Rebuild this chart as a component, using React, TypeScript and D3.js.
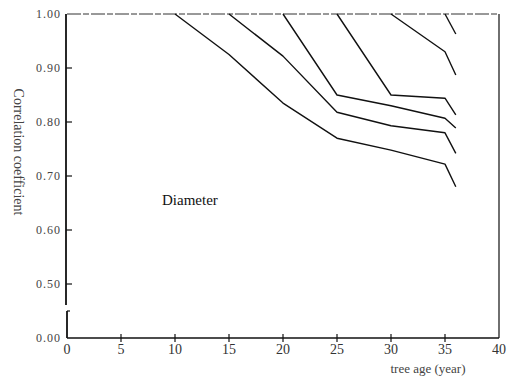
import React from "react";
import * as d3 from "d3";

const ages = [10, 15, 20, 25, 30, 35, 36];
const seriesFrom10 = [1.0, 0.925, 0.835, 0.77, 0.748, 0.722, 0.68];
const seriesFrom15 = [1.0, 0.922, 0.818, 0.793, 0.78, 0.742];
const seriesFrom20 = [1.0, 0.85, 0.83, 0.807, 0.789];
const seriesFrom25 = [1.0, 0.85, 0.844, 0.813];
const seriesFrom30 = [1.0, 0.93, 0.887];
const seriesFrom35 = [1.0, 0.963];
const startAges = [10, 15, 20, 25, 30, 35];

const xTicks = [0, 5, 10, 15, 20, 25, 30, 35, 40];
// broken axis: the bottom tick (drawn at 0.40 position) is labelled 0.00
const yTickValues = [1.0, 0.9, 0.8, 0.7, 0.6, 0.5, 0.4];
const yTickLabels = ["1.00", "0.90", "0.80", "0.70", "0.60", "0.50", "0.00"];

const W = 514;
const H = 383;
const left = 67;
const right = 499;
const top = 14;
const bottom = 338;

export default function App() {
  const x = d3.scaleLinear().domain([0, 40]).range([left, right]);
  const y = d3.scaleLinear().domain([0.4, 1.0]).range([bottom, top]);
  const allSeries = [seriesFrom10, seriesFrom15, seriesFrom20, seriesFrom25, seriesFrom30, seriesFrom35];
  const line = d3
    .line<[number, number]>()
    .x((d) => x(d[0]))
    .y((d) => y(d[1]));
  const font = "'Liberation Serif', 'DejaVu Serif', serif";
  const breakTop = 305;
  const breakBottom = 311;

  return (
    <svg width={W} height={H} style={{ position: "absolute", left: 0, top: 0, background: "#fff" }}>
      {/* frame */}
      <line x1={left} y1={top} x2={right} y2={top} stroke="#333" strokeWidth={1} strokeDasharray="14 2 6 2" />
      <line x1={right} y1={top} x2={right} y2={bottom} stroke="#222" strokeWidth={1.3} />
      <line x1={left} y1={bottom} x2={right} y2={bottom} stroke="#111" strokeWidth={1.5} />
      <line x1={left - 1} y1={top} x2={left - 1} y2={breakTop} stroke="#111" strokeWidth={1.8} />
      <line x1={left} y1={breakBottom} x2={left} y2={bottom} stroke="#111" strokeWidth={1.8} />
      <line x1={left} y1={breakBottom} x2={left + 3} y2={breakBottom} stroke="#111" strokeWidth={1.2} />

      {/* y ticks */}
      {yTickValues.map((v, i) => (
        <g key={"yt" + i}>
          {i > 0 && i < yTickValues.length - 1 && (
            <line x1={left - 1} y1={y(v)} x2={left + 5} y2={y(v)} stroke="#111" strokeWidth={1.2} />
          )}
          <text
            x={left - 6}
            y={y(v) + 4}
            textAnchor="end"
            fontFamily={font}
            fontSize={12}
            letterSpacing={1}
            fill="#444"
          >
            {yTickLabels[i]}
          </text>
        </g>
      ))}

      {/* x ticks */}
      {xTicks.map((t, i) => (
        <g key={"xt" + i}>
          {t > 0 && t < 40 && (
            <line x1={x(t)} y1={bottom - 4} x2={x(t)} y2={bottom + 4} stroke="#111" strokeWidth={1.2} />
          )}
          <text x={x(t)} y={bottom + 16} textAnchor="middle" fontFamily={font} fontSize={14} fill="#333">
            {t}
          </text>
        </g>
      ))}

      {/* series */}
      {allSeries.map((s, i) => {
        const start = startAges[i];
        const pts: [number, number][] = s.map((v, j) => [ages[ages.indexOf(start) + j], v]);
        return (
          <path key={"s" + i} d={line(pts) || ""} fill="none" stroke="#111" strokeWidth={1.4} strokeLinejoin="round" />
        );
      })}

      {/* labels */}
      <text x={162} y={205} fontFamily={font} fontSize={15} fill="#111">
        Diameter
      </text>
      <text
        transform={`translate(14, 152) rotate(90)`}
        textAnchor="middle"
        fontFamily={font}
        fontSize={14}
        fill="#444"
      >
        Correlation coefficient
      </text>
      <text x={428} y={373} textAnchor="middle" fontFamily={font} fontSize={13} fill="#444">
        tree age (year)
      </text>
    </svg>
  );
}
